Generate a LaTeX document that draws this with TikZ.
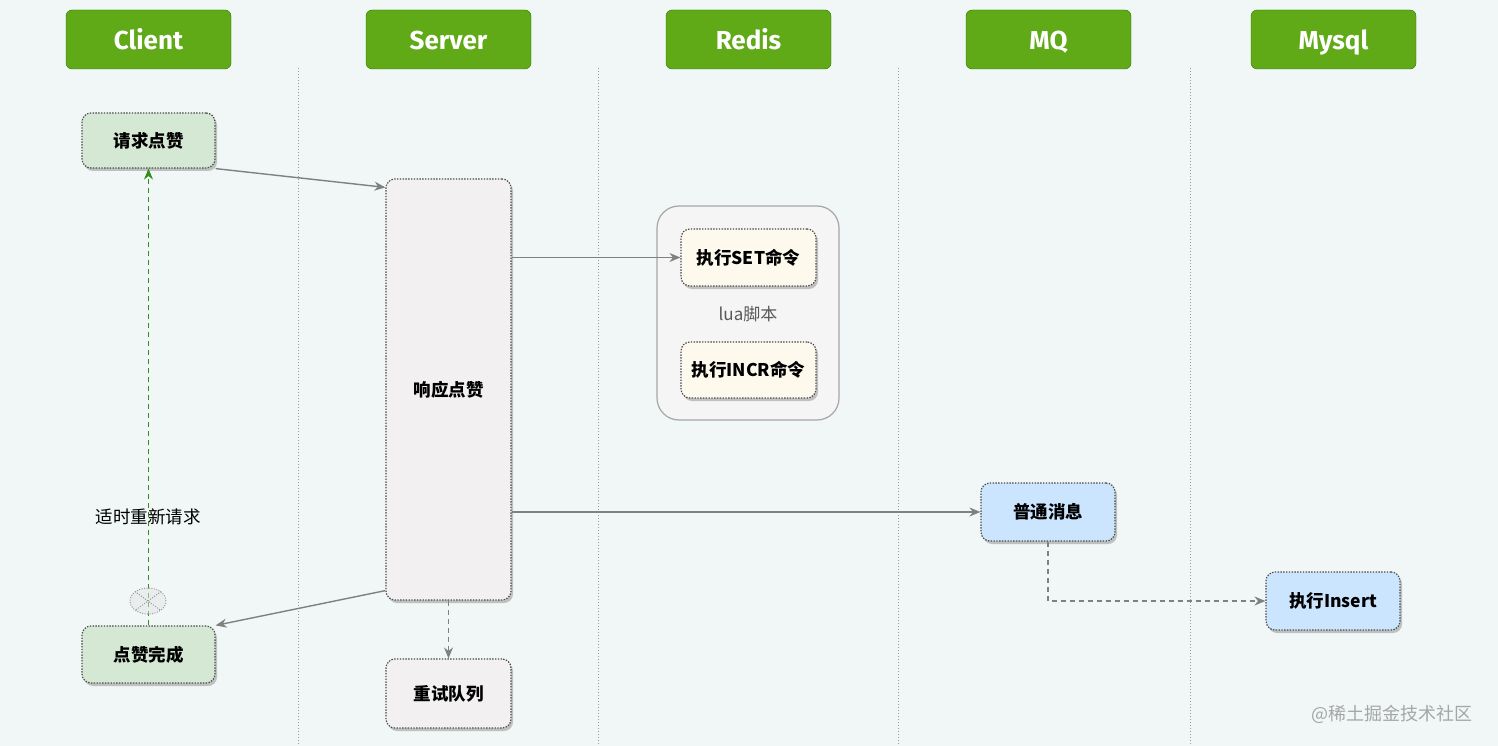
\documentclass[tikz,border=0pt]{standalone}
\usepackage{fontspec}
\newfontfamily\cjk{Noto Sans CJK SC}
\newfontfamily\headfont{Fira Sans}
\usetikzlibrary{arrows.meta,shadows,shapes.geometric}
\definecolor{bgcol}{RGB}{240,247,246}
\definecolor{headgreen}{RGB}{96,169,23}
\definecolor{headline}{RGB}{45,118,0}
\definecolor{greenbox}{RGB}{213,232,212}
\definecolor{graybox}{RGB}{242,240,240}
\definecolor{creambox}{RGB}{253,249,236}
\definecolor{bluebox}{RGB}{204,229,255}
\definecolor{luafill}{RGB}{245,245,245}
\definecolor{arrgray}{RGB}{128,128,128}
\definecolor{retrygreen}{RGB}{52,140,30}
\begin{document}
\begin{tikzpicture}[x=1pt, y=-1pt,
        >={Stealth[length=11pt, width=9pt]},
        head/.style = {draw=headline, fill=headgreen, rounded corners=6pt, inner sep=0pt,
            minimum width=165pt, minimum height=59pt, text=white,
            text height=24pt, text depth=3pt,
            font=\headfont\bfseries\fontsize{26}{30}\selectfont},
        box/.style = {draw=black!70, line width=1.2pt, dash pattern=on 1.4pt off 1.4pt,
            rounded corners=9pt, inner sep=0pt, minimum width=133pt, minimum height=56pt,
            font=\cjk\bfseries\fontsize{17.5}{20}\selectfont,
            drop shadow={shadow xshift=2pt, shadow yshift=-3pt, fill=black!45, opacity=0.5}},
        lane/.style = {draw=black!40, line width=1pt, dash pattern=on 1pt off 2pt},
        arr/.style = {draw=arrgray, line width=1.4pt, ->},
        darr/.style = {arr, dash pattern=on 5pt off 4pt},
    ]
    \path[use as bounding box, fill=bgcol] (0,0) rectangle (1498,746);

    % lanes
    \foreach \x in {298,598,898,1190}
        \draw[lane] (\x,68) -- (\x,746);

    % headers
    \node (client) [head] at (148.5,39.5) {Client};
    \node (server) [head] at (448.5,39.5) {Server};
    \node (redis) [head] at (748.5,39.5) {Redis};
    \node (mq) [head] at (1048.5,39.5) {MQ};
    \node (mysql) [head] at (1333.5,39.5) {Mysql};

    % client
    \node (req) [box, fill=greenbox, minimum height=55pt] at (148.5,140.5) {请求点赞};
    \node (done) [box, fill=greenbox, minimum height=57pt] at (148.5,654.5) {点赞完成};

    % server
    \node (resp) [box, fill=graybox, minimum width=125pt, minimum height=421pt] at (448.5,389.5) {响应点赞};
    \node (retry) [box, fill=graybox, minimum width=125pt, minimum height=69pt] at (448.5,693.5) {重试队列};

    % redis
    \node (lua) [draw=black!35, line width=1.2pt, fill=luafill, rounded corners=22pt,
        minimum width=182pt, minimum height=214pt] at (748,313) {};
    \node (luatext) [text=black!65, font=\cjk\fontsize{17}{20}\selectfont] at (748,314) {lua脚本};
    \node (set) [box, fill=creambox, minimum width=135pt, minimum height=57pt] at (748.5,257.5) {执行SET命令};
    \node (incr) [box, fill=creambox, minimum width=135pt] at (748.5,370) {执行INCR命令};

    % mq and mysql
    \node (msg) [box, fill=bluebox, minimum width=134pt, minimum height=58pt] at (1048,512) {普通消息};
    \node (insert) [box, fill=bluebox, minimum width=134pt, minimum height=58pt] at (1333,601) {执行Insert};

    % retry request
    \path[draw=retrygreen, line width=1.4pt, dash pattern=on 5pt off 4pt, ->] (done.north) -- (req.south);
    \node (skip) [ellipse, draw=black!40, line width=1pt, dash pattern=on 1pt off 1.5pt,
        fill=black!10, fill opacity=0.5, minimum width=36pt, minimum height=26pt] at (148,601) {};
    \draw[black!40, line width=1pt, dash pattern=on 1pt off 1.5pt] (skip.north west) -- (skip.south east);
    \draw[black!40, line width=1pt, dash pattern=on 1pt off 1.5pt] (skip.north east) -- (skip.south west);
    \node (again) [font=\cjk\fontsize{17.5}{20}\selectfont] at (148,517) {适时重新请求};

    \path[arr] (req.south east) -- ([yshift=-9pt]resp.north west);
    \path[arr] (resp.east |- set.west) -- (set.west);
    \path[arr] (resp.east |- msg.west) -- (msg.west);
    \path[arr] ([yshift=10pt]resp.south west) -- (done.north east);
    \path[darr] (resp.south) -- (retry.north);
    \path[darr] (msg.south) |- (insert.west);

    \node (mark) [text=black!35, font=\cjk\fontsize{18}{20}\selectfont] at (1392,714) {@稀土掘金技术社区};
\end{tikzpicture}
\end{document}
